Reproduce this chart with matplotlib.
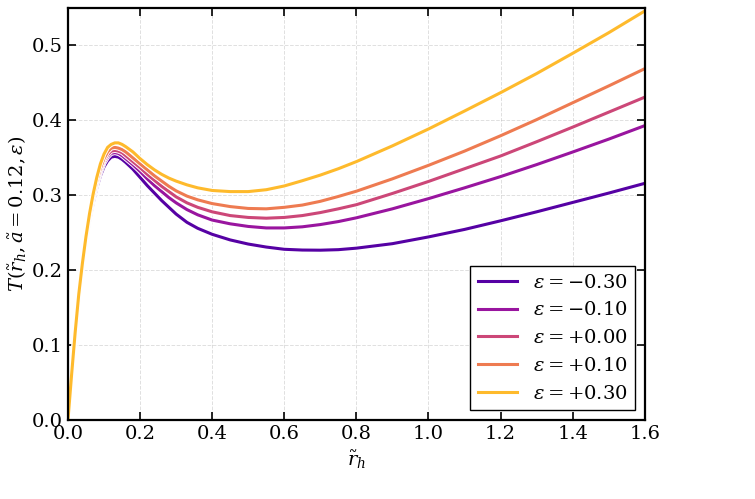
import numpy as np
import matplotlib
matplotlib.use("Agg")
import matplotlib.pyplot as plt
import matplotlib.patheffects as pe

plt.rcParams['font.family'] = ['DejaVu Serif']
plt.rcParams['mathtext.fontset'] = 'dejavuserif'

# horizon radius samples
r_h = [0.0, 0.005, 0.01, 0.02, 0.03, 0.04, 0.05, 0.06, 0.07, 0.08, 0.09, 0.10,
       0.11, 0.12, 0.13, 0.14, 0.15, 0.16, 0.18, 0.20, 0.22, 0.24, 0.26, 0.28,
       0.30, 0.33, 0.36, 0.40, 0.45, 0.50, 0.55, 0.60, 0.65, 0.70, 0.75, 0.80,
       0.90, 1.00, 1.10, 1.20, 1.30, 1.40, 1.50, 1.60]

eps_labels = [r'$\varepsilon = -0.30$', r'$\varepsilon = -0.10$', r'$\varepsilon = +0.00$',
              r'$\varepsilon = +0.10$', r'$\varepsilon = +0.30$']

T_m030 = [0.0, 0.029, 0.058, 0.114, 0.163, 0.203, 0.237, 0.266, 0.290, 0.310, 0.326, 0.338,
          0.346, 0.351, 0.352, 0.351, 0.348, 0.344, 0.335, 0.324, 0.313, 0.303, 0.293, 0.284,
          0.275, 0.264, 0.256, 0.248, 0.2405, 0.235, 0.231, 0.228, 0.227, 0.2268, 0.2275, 0.2295,
          0.2355, 0.2445, 0.2545, 0.266, 0.278, 0.2905, 0.303, 0.316]
T_m010 = [0.0, 0.029, 0.059, 0.115, 0.165, 0.205, 0.240, 0.269, 0.294, 0.314, 0.330, 0.343,
          0.351, 0.356, 0.357, 0.356, 0.353, 0.349, 0.341, 0.332, 0.322, 0.313, 0.305, 0.297,
          0.290, 0.281, 0.274, 0.267, 0.262, 0.2585, 0.2565, 0.2565, 0.258, 0.261, 0.265, 0.270,
          0.282, 0.2956, 0.310, 0.325, 0.341, 0.3578, 0.375, 0.393]
T_p000 = [0.0, 0.030, 0.059, 0.116, 0.166, 0.206, 0.241, 0.271, 0.296, 0.316, 0.333, 0.346,
          0.354, 0.359, 0.360, 0.359, 0.357, 0.353, 0.345, 0.337, 0.328, 0.320, 0.312, 0.305,
          0.298, 0.290, 0.284, 0.278, 0.273, 0.2705, 0.2695, 0.2705, 0.273, 0.277, 0.282, 0.2875,
          0.3025, 0.3185, 0.3355, 0.3525, 0.3715, 0.391, 0.411, 0.431]
T_p010 = [0.0, 0.030, 0.060, 0.116, 0.167, 0.207, 0.243, 0.273, 0.298, 0.319, 0.336, 0.349,
          0.358, 0.363, 0.364, 0.363, 0.361, 0.358, 0.350, 0.342, 0.334, 0.326, 0.319, 0.312,
          0.306, 0.299, 0.294, 0.289, 0.285, 0.2825, 0.282, 0.284, 0.287, 0.292, 0.2985, 0.3055,
          0.322, 0.340, 0.359, 0.3795, 0.401, 0.4235, 0.446, 0.469]
T_p030 = [0.0, 0.030, 0.060, 0.117, 0.168, 0.209, 0.245, 0.276, 0.302, 0.324, 0.342, 0.355,
          0.364, 0.368, 0.370, 0.370, 0.368, 0.365, 0.358, 0.349, 0.341, 0.334, 0.328, 0.323,
          0.319, 0.314, 0.310, 0.3065, 0.305, 0.305, 0.3075, 0.3125, 0.3195, 0.327, 0.3355, 0.345,
          0.366, 0.3885, 0.4125, 0.437, 0.4625, 0.4895, 0.517, 0.546]

series = [T_m030, T_m010, T_p000, T_p010, T_p030]
colors = plt.cm.plasma(np.linspace(0.15, 0.85, len(series)))

fig = plt.figure(figsize=(7.55, 4.99), dpi=100)
ax = fig.add_axes([0.090, 0.158, 0.764, 0.826])

for T, lab, c in zip(series, eps_labels, colors):
    ax.plot(r_h, T, color=c, lw=2.2, label=lab, solid_joinstyle='round',
            path_effects=[pe.Stroke(linewidth=3.6, foreground='white'), pe.Normal()])

ax.set_xlim(0, 1.6)
ax.set_ylim(0, 0.55)
ax.set_xticks(np.arange(0, 1.61, 0.2))
ax.set_yticks(np.arange(0, 0.51, 0.1))
ax.tick_params(direction='in', top=True, right=True, length=6, width=1.2, labelsize=14)
for s in ax.spines.values():
    s.set_linewidth(1.6)

ax.grid(True, linestyle='--', color='gray', alpha=0.25, linewidth=0.7)

ax.set_xlabel(r'$\tilde{r}_h$', fontsize=14)
ax.set_ylabel(r'$T(\tilde{r}_h, \tilde{a} = 0.12, \varepsilon)$', fontsize=14, labelpad=2)

leg = ax.legend(loc='lower right', fontsize=14, fancybox=False, framealpha=1,
                edgecolor='black', handlelength=2.0)
leg.get_frame().set_linewidth(1.0)

plt.savefig("out.png", dpi=100)
